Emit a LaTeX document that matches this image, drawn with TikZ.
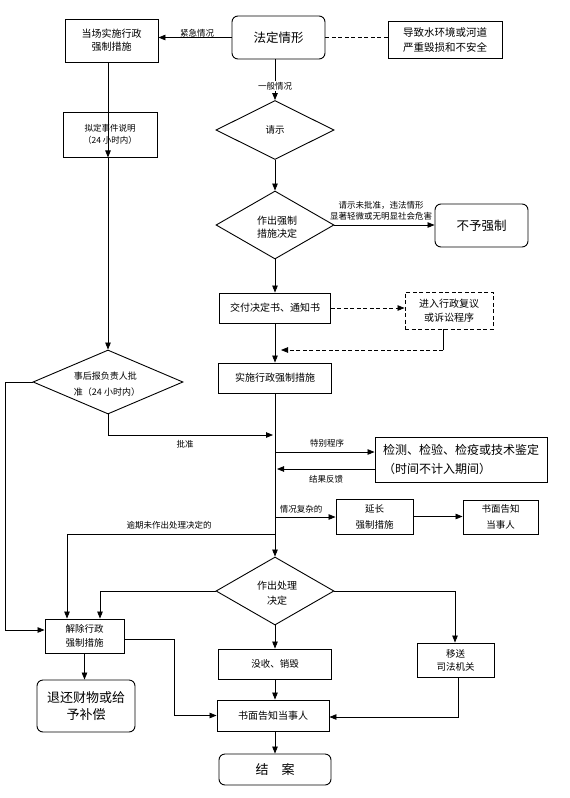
\documentclass[tikz,border=0pt]{standalone}
\usepackage{fontspec}
\setmainfont{Noto Sans CJK SC}
\usetikzlibrary{arrows.meta,shapes.geometric}
\newcommand\myfbig{\fontsize{12.5}{18}\selectfont}
\newcommand\myfb{\fontsize{10}{13}\selectfont}
\newcommand\myfm{\fontsize{9.5}{13}\selectfont}
\newcommand\myfs{\fontsize{8.5}{12}\selectfont}
\begin{document}
\begin{tikzpicture}[x=1pt,y=-1pt,
  box/.style={draw, line width=0.9pt, inner sep=0pt, align=center, font=\myfb},
  rbox/.style={box, rounded corners=6pt},
  dbox/.style={box, dash pattern=on 4pt off 2.5pt},
  dia/.style={draw, diamond, line width=0.9pt, inner sep=0pt},
  ln/.style={line width=0.8pt},
  arr/.style={ln, -{Triangle[length=7pt,width=5.5pt]}},
  darr/.style={arr, dash pattern=on 4pt off 2.5pt},
  dln/.style={ln, dash pattern=on 4pt off 2.5pt},
  lab/.style={font=\myfs, inner sep=1pt, align=center}]
\useasboundingbox (0,0) rectangle (570,798);

% nodes
\node[box, minimum width=93pt, minimum height=43pt] (A) at (111.5,40.5) {当场实施行政\\强制措施};
\node[rbox, minimum width=93pt, minimum height=43pt, font=\myfbig] (fd) at (278.5,37.5) {法定情形};
\node[box, minimum width=114pt, minimum height=37pt, font=\fontsize{10.5}{15}\selectfont] (env) at (445,39.5) {导致水环境或河道\\严重毁损和不安全};
\node[dia, minimum width=118pt, minimum height=59pt] (qs) at (275,130) {};
\node[font=\myfm] at (qs) {请示};
\node[dia, minimum width=118pt, minimum height=68pt] (zc) at (275,225) {};
\node[font=\myfb, align=center, text depth=0pt] at (277,226.5) {\fontsize{10}{16}\selectfont 作出强制\\措施决定};
\node[rbox, minimum width=93pt, minimum height=43pt, font=\myfbig] (byqz) at (481.5,225.5) {不予强制};
\node[box, minimum width=111pt, minimum height=30pt] (jf) at (275,308) {交付决定书、通知书};
\node[dbox, minimum width=88pt, minimum height=37pt, font=\fontsize{10}{14}\selectfont] (fy) at (449,310.5) {进入行政复议\\或诉讼程序};
\node[box, minimum width=113pt, minimum height=30pt] (ss) at (275,378) {实施行政强制措施};
\node[box, minimum width=94pt, minimum height=45pt, font=\myfs] (nd) at (110,134.5) {拟定事件说明\\（24 小时内）};
\node[dia, minimum width=150pt, minimum height=64pt] (hb) at (108,382) {};
\node[font=\fontsize{9}{16}\selectfont, align=left] at (107,384) {事后报负责人批\\准（24 小时内）};
\node[box, minimum width=172pt, minimum height=45pt, font=\fontsize{12}{19}\selectfont, align=left] (jc) at (461,459.5) {检测、检验、检疫或技术鉴定\\（时间不计入期间）};
\node[box, minimum width=77pt, minimum height=35pt, font=\fontsize{9.5}{16}\selectfont] (yc) at (374.5,516.5) {延长\\强制措施};
\node[box, minimum width=75pt, minimum height=34pt, font=\fontsize{9.5}{16}\selectfont] (sm1) at (500.5,517) {书面告知\\当事人};
\node[dia, minimum width=118pt, minimum height=68pt] (cl) at (275,591) {};
\node[font=\fontsize{10}{15}\selectfont, align=center] at (277,593) {作出处理\\决定};
\node[box, minimum width=79pt, minimum height=34pt, font=\fontsize{9.5}{14}\selectfont] (jcx) at (84.5,636) {解除行政\\强制措施};
\node[rbox, minimum width=98pt, minimum height=52pt, font=\fontsize{13}{17}\selectfont] (th) at (86,706) {退还财物或给\\予补偿};
\node[box, minimum width=113pt, minimum height=30pt, font=\myfm] (ms) at (275,664) {没收、销毁};
\node[box, minimum width=112pt, minimum height=31pt] (sm2) at (273,715.5) {书面告知当事人};
\node[rbox, minimum width=112pt, minimum height=31pt, font=\fontsize{13}{16}\selectfont] (ja) at (275,769.5) {结\hspace{1em}案};
\node[box, minimum width=77pt, minimum height=34pt, font=\fontsize{9.5}{13}\selectfont] (ys) at (455.5,660) {移送\\司法机关};

% coordinates
\coordinate (fb) at (443,350);
\coordinate (fbe) at (281,350);
\coordinate (L1) at (5,382);
\coordinate (L2) at (5,630);
\coordinate (B1) at (108,435);
\coordinate (B2) at (273,435);
\coordinate (s1) at (275,452);
\coordinate (r1) at (277,469);
\coordinate (s2) at (275,517);
\coordinate (s3) at (275,534);
\coordinate (s3b) at (67,534);
\coordinate (c1) at (100,591);
\coordinate (d0) at (124,639);
\coordinate (d1) at (174,639);
\coordinate (e1) at (455,591);
\coordinate (e2) at (458,717);

% connectors
\draw[arr] (fd.west) -- (fd.west -| A.east);
\node[lab] at (197,33) {紧急情况};
\draw[dln] (fd.east) -- (fd.east -| env.west);
\draw[arr] (fd.south -| qs.north) -- (qs.north);
\node[lab, fill=white] at (275,86) {一般情况};
\draw[arr] (qs.south) -- (zc.north);
\draw[arr] (zc.east) -- (zc.east -| byqz.west);
\node[lab, font=\fontsize{8.5}{11.5}\selectfont] at (381,211) {请示未批准，违法情形\\显著轻微或无明显社会危害};
\draw[arr] (zc.south) -- (jf.north);
\draw[darr] (jf.east) -- (jf.east -| fy.west);
\draw[ln] (fy.south -| fb) -- (fb);
\draw[darr] (fb) -- (fbe);
\draw[arr] (jf.south) -- (ss.north);
\draw[arr] (A.south -| hb.north) -- (nd.south -| hb.north |- nd.north);
\draw[arr] (nd.south -| hb.north) -- (hb.north);
\draw[arr] (hb.west) -- (L1) -- (L2) -- (L2 -| jcx.west);
\draw[arr] (hb.south) -- (B1) -- (B2);
\node[lab] at (185,444) {批准};
\draw[arr] (ss.south) -- (cl.north);
\draw[arr] (s1) -- (s1 -| jc.west);
\node[lab] at (327,443) {特别程序};
\draw[arr] (r1 -| jc.west) -- (r1);
\node[lab] at (326,479) {结果反馈};
\draw[arr] (s2) -- (s2 -| yc.west);
\node[lab] at (301,509) {情况复杂的};
\draw[arr] (yc.east) -- (yc.east -| sm1.west);
\draw[arr] (s3) -- (s3b) -- (s3b |- jcx.north);
\node[lab] at (169,525) {逾期未作出处理决定的};
\draw[arr] (cl.west) -- (c1) -- (c1 |- jcx.north);
\draw[arr] (jcx.south) -- (jcx.south |- th.north);
\draw[arr] (d0) -- (d1) -- (d1 |- sm2.west) -- (sm2.west);
\draw[arr] (cl.south) -- (ms.north);
\draw[arr] (ms.south) -- (ms.south |- sm2.north);
\draw[arr] (sm2.south -| ja.north) -- (ja.north);
\draw[arr] (cl.east) -- (e1) -- (e1 |- ys.north);
\draw[arr] (ys.south -| e2) -- (e2) -- (e2 -| sm2.east);
\end{tikzpicture}
\end{document}
